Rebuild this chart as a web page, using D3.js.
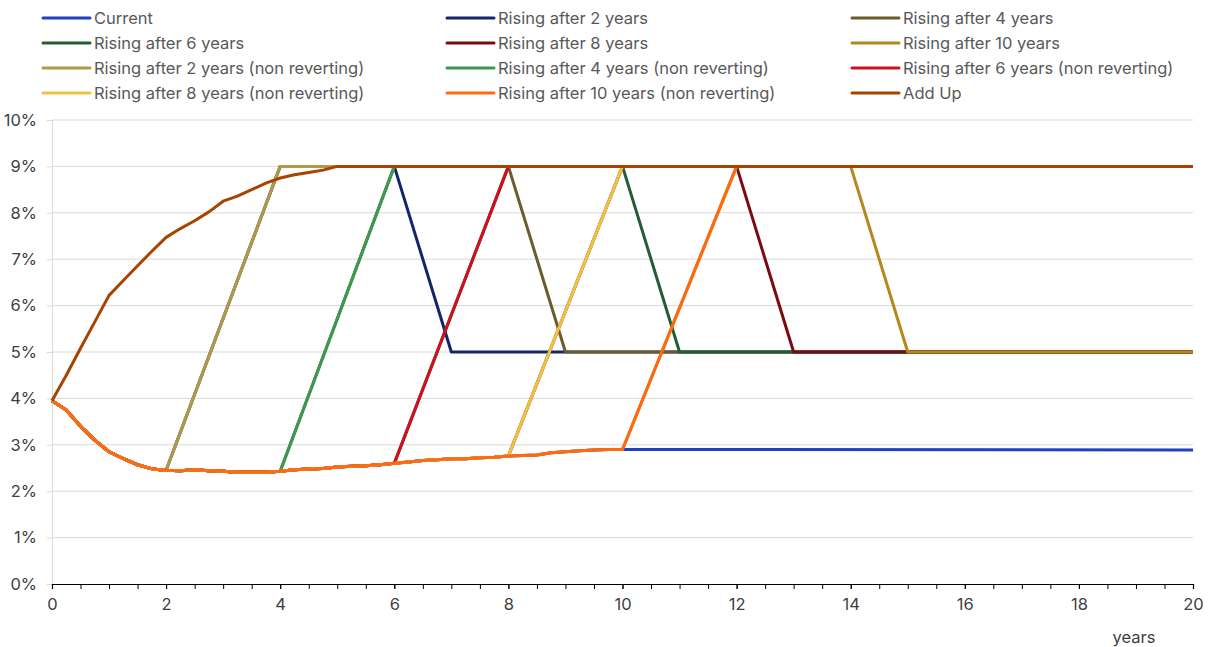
<!DOCTYPE html>
<html>
<head>
<meta charset="utf-8">
<script src="https://cdn.jsdelivr.net/npm/d3@7"></script>
<style>
  html, body { margin: 0; padding: 0; background: #fff; }
  svg { display: block; font-family: Inter, "Noto Sans", sans-serif; }
</style>
</head>
<body>
<svg id="chart" width="1210" height="647"></svg>
<script>
// ---- Data (years, percent) ----
const xTicks = [0, 2, 4, 6, 8, 10, 12, 14, 16, 18, 20];
const yTicks = [0, 1, 2, 3, 4, 5, 6, 7, 8, 9, 10];

// Baseline path shared by the scenarios before they start rising
const baseline = [
  [0, 3.95], [0.25, 3.75], [0.5, 3.4], [0.75, 3.1], [1, 2.85], [1.25, 2.7], [1.5, 2.57], [1.75, 2.48],
  [2, 2.45], [2.25, 2.44], [2.5, 2.46], [2.75, 2.44], [3, 2.43], [3.25, 2.41], [3.5, 2.41], [3.75, 2.41],
  [4, 2.43], [4.25, 2.46], [4.5, 2.48], [4.75, 2.49], [5, 2.52], [5.25, 2.54], [5.5, 2.55], [5.75, 2.57],
  [6, 2.6], [6.25, 2.63], [6.5, 2.66], [6.75, 2.68], [7, 2.7], [7.25, 2.7], [7.5, 2.72], [7.75, 2.73],
  [8, 2.76], [8.25, 2.77], [8.5, 2.78], [8.75, 2.83], [9, 2.85], [9.25, 2.87], [9.5, 2.89], [9.75, 2.9],
  [10, 2.9]
];

const current      = [...baseline, [20, 2.89]];
const rising2      = [...baseline.slice(0, 9),  [4, 9], [6, 9], [7, 5], [20, 5]];
const rising4      = [...baseline.slice(0, 17), [6, 9], [8, 9], [9, 5], [20, 5]];
const rising6      = [...baseline.slice(0, 25), [8, 9], [10, 9], [11, 5], [20, 5]];
const rising8      = [...baseline.slice(0, 33), [10, 9], [12, 9], [13, 5], [20, 5]];
const rising10     = [...baseline.slice(0, 41), [12, 9], [14, 9], [15, 5], [20, 5]];
const rising2NR    = [...baseline.slice(0, 9),  [4, 9], [20, 9]];
const rising4NR    = [...baseline.slice(0, 17), [6, 9], [20, 9]];
const rising6NR    = [...baseline.slice(0, 25), [8, 9], [20, 9]];
const rising8NR    = [...baseline.slice(0, 33), [10, 9], [20, 9]];
const rising10NR   = [...baseline.slice(0, 41), [12, 9], [20, 9]];
const addUp = [
  [0, 3.95], [0.25, 4.5], [0.5, 5.08], [0.75, 5.65], [1, 6.22], [1.25, 6.54], [1.5, 6.86], [1.75, 7.17],
  [2, 7.47], [2.25, 7.66], [2.5, 7.83], [2.75, 8.02], [3, 8.25], [3.25, 8.36], [3.5, 8.5], [3.75, 8.64],
  [4, 8.75], [4.25, 8.82], [4.5, 8.87], [4.75, 8.92], [5, 9.0], [20, 9.0]
];

const seriesNames = [
  "Current", "Rising after 2 years", "Rising after 4 years",
  "Rising after 6 years", "Rising after 8 years", "Rising after 10 years",
  "Rising after 2 years (non reverting)", "Rising after 4 years (non reverting)", "Rising after 6 years (non reverting)",
  "Rising after 8 years (non reverting)", "Rising after 10 years (non reverting)", "Add Up"
];
const seriesData = [
  current, rising2, rising4,
  rising6, rising8, rising10,
  rising2NR, rising4NR, rising6NR,
  rising8NR, rising10NR, addUp
];
const seriesColors = [
  "#1f3fc4", "#15256a", "#6b5d2b",
  "#225e31", "#7a0b14", "#b4881a",
  "#b09a45", "#3a9a52", "#d0101e",
  "#f0c242", "#ff6a10", "#a84300"
];

// ---- Layout ----
const svg = d3.select("#chart");
const plotLeft = 52, plotRight = 1193, plotTop = 120, plotBottom = 584;
const fontSize = 16.5;

const x = d3.scaleLinear().domain([0, 20]).range([plotLeft, plotRight]);
const y = d3.scaleLinear().domain([0, 10]).range([plotBottom, plotTop]);

// Gridlines
svg.append("g")
  .selectAll("line")
  .data(yTicks.filter(d => d > 0))
  .join("line")
  .attr("x1", plotLeft).attr("x2", plotRight)
  .attr("y1", d => y(d)).attr("y2", d => y(d))
  .attr("stroke", "#d9d9d9").attr("stroke-width", 1);

// Y axis
const yAxis = svg.append("g")
  .attr("transform", `translate(${plotLeft},0)`)
  .call(d3.axisLeft(y).tickValues(yTicks).tickFormat(d => d + "%").tickSize(5).tickPadding(10));
yAxis.select(".domain").attr("stroke", "#d9d9d9");
yAxis.selectAll(".tick line").attr("stroke", "#d9d9d9");
yAxis.selectAll("text").attr("font-size", fontSize).attr("fill", "#404040")
  .attr("font-family", "Inter, 'Noto Sans', sans-serif");

// X axis: minor ticks every half-year
const xAxisMinor = svg.append("g")
  .attr("transform", `translate(0,${plotBottom})`)
  .call(d3.axisBottom(x).ticks(40).tickSize(5).tickFormat(""));
xAxisMinor.select(".domain").attr("stroke", "#000").attr("stroke-width", 1.2);
xAxisMinor.selectAll(".tick line").attr("stroke", "#000");

const xAxis = svg.append("g")
  .attr("transform", `translate(0,${plotBottom})`)
  .call(d3.axisBottom(x).tickValues(xTicks).tickSize(5).tickPadding(9));
xAxis.select(".domain").remove();
xAxis.selectAll(".tick line").attr("stroke", "#000");
xAxis.selectAll("text").attr("font-size", fontSize).attr("fill", "#404040")
  .attr("font-family", "Inter, 'Noto Sans', sans-serif");

svg.append("text")
  .attr("x", 1134).attr("y", 643)
  .attr("text-anchor", "middle")
  .attr("font-size", fontSize).attr("fill", "#404040")
  .text("years");

// Lines
const line = d3.line().x(d => x(d[0])).y(d => y(d[1]));
svg.append("g")
  .selectAll("path")
  .data(seriesData)
  .join("path")
  .attr("d", d => line(d))
  .attr("fill", "none")
  .attr("stroke", (d, i) => seriesColors[i])
  .attr("stroke-width", 3)
  .attr("stroke-linejoin", "round");

// Legend
const legendCols = [43, 447, 852];
const legendRows = [18, 43, 68, 93];
const legend = svg.append("g");
seriesNames.forEach((name, i) => {
  const cx = legendCols[i % 3];
  const cy = legendRows[Math.floor(i / 3)];
  legend.append("line")
    .attr("x1", cx).attr("x2", cx + 47)
    .attr("y1", cy).attr("y2", cy)
    .attr("stroke", seriesColors[i]).attr("stroke-width", 3).attr("stroke-linecap", "round");
  legend.append("text")
    .attr("x", cx + 51).attr("y", cy + 6)
    .attr("font-size", fontSize).attr("fill", "#595959")
    .text(name);
});
</script>
</body>
</html>
